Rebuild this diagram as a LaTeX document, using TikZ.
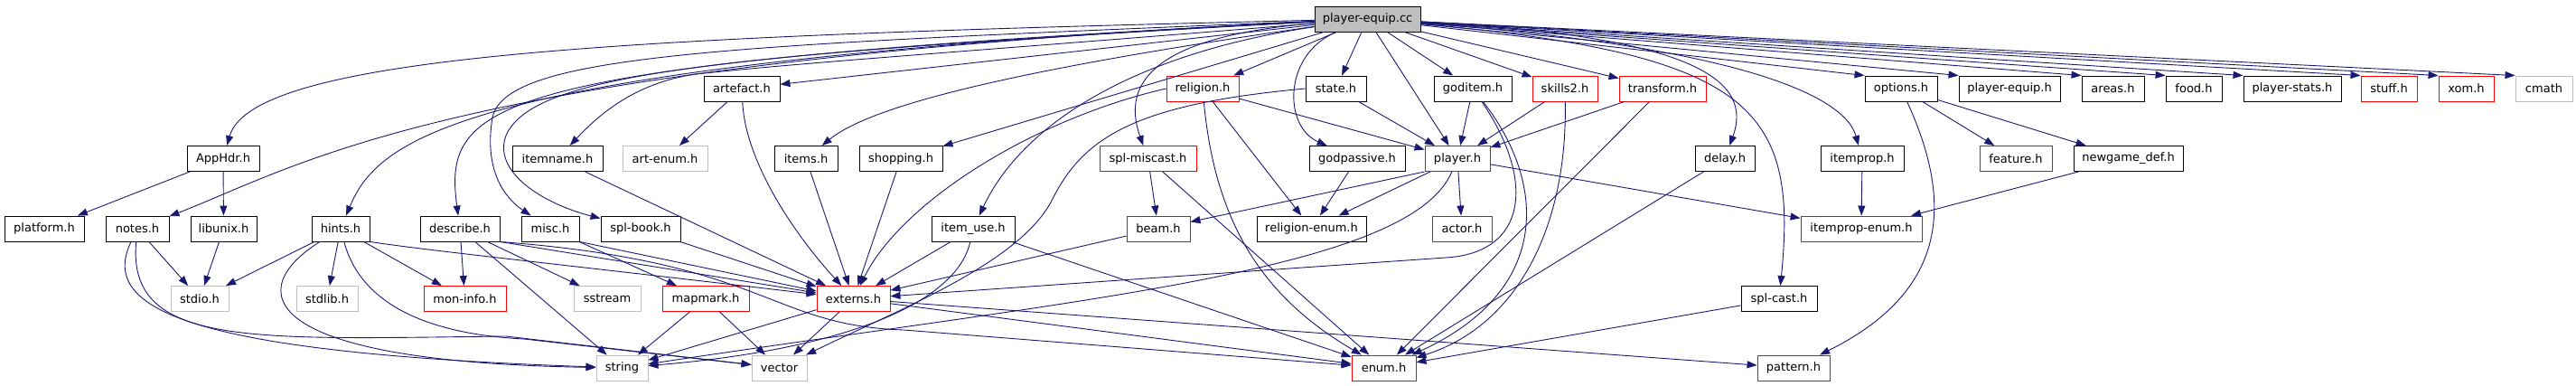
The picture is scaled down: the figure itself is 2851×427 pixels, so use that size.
\documentclass[tikz,border=0pt]{standalone}
\usepackage{fontspec}
\setmainfont{DejaVu Sans}
\usetikzlibrary{arrows.meta}
\definecolor{edgeblue}{HTML}{191970}
\definecolor{hdrred}{HTML}{FF0000}
\definecolor{hdrgray}{HTML}{BFBFBF}
\begin{document}
\begin{tikzpicture}[x=1pt,y=-1pt,
	hdr/.style={draw=black,line width=0.9pt,fill=white,minimum width=#1,minimum height=28pt,inner sep=0pt,font=\fontsize{13pt}{15pt}\selectfont},
	redhdr/.style={hdr=#1,draw=hdrred},
	syshdr/.style={hdr=#1,draw=hdrgray},
	rootfile/.style={hdr=#1,fill=hdrgray},
	dep/.style={draw=edgeblue,line width=0.9pt,-{Triangle[length=11pt,width=8pt]}}]
		\useasboundingbox (0,0) rectangle (2851,427);
		\node[rootfile=117pt] (root) at (1513.5,21) {player-equip.cc};
		\node[hdr=84pt] (artefact) at (821,98) {artefact.h};
		\node[redhdr=80pt] (religion) at (1331,98) {religion.h};
		\node[hdr=67pt] (state) at (1478.5,98) {state.h};
		\node[hdr=86pt] (goditem) at (1630,98) {goditem.h};
		\node[redhdr=72pt] (skillstwo) at (1732,98) {skills2.h};
		\node[redhdr=96pt] (transform) at (1840,98) {transform.h};
		\node[hdr=80pt] (options) at (2104,98) {options.h};
		\node[hdr=112pt] (pequip) at (2224,98) {player-equip.h};
		\node[hdr=69pt] (areas) at (2338.5,98) {areas.h};
		\node[hdr=62pt] (food) at (2428,98) {food.h};
		\node[hdr=108pt] (pstats) at (2537,98) {player-stats.h};
		\node[redhdr=62pt] (stuff) at (2644,98) {stuff.h};
		\node[redhdr=61pt] (xom) at (2729.5,98) {xom.h};
		\node[syshdr=63pt] (cmath) at (2815.5,98) {cmath};
		\node[hdr=80pt] (apphdr) at (247,175.5) {AppHdr.h};
		\node[hdr=100pt] (itemname) at (617,175.5) {itemname.h};
		\node[syshdr=94pt] (artenum) at (736,175.5) {art-enum.h};
		\node[hdr=70pt] (items) at (892,175.5) {items.h};
		\node[hdr=92pt] (shopping) at (997,175.5) {shopping.h};
		\node[redhdr=107pt] (miscast) at (1270.5,175.5) {spl-miscast.h};
		\node[hdr=106pt] (godpassive) at (1502,175.5) {godpassive.h};
		\node[redhdr=72pt] (player) at (1613,175.5) {player.h};
		\node[hdr=66pt] (delay) at (1909,175.5) {delay.h};
		\node[hdr=92pt] (itemprop) at (2061,175.5) {itemprop.h};
		\node[redhdr=80pt] (feature) at (2231,175.5) {feature.h};
		\node[hdr=121pt] (newgame) at (2355.5,175.5) {newgame\_def.h};
		\node[hdr=88pt] (platform) at (49,253) {platform.h};
		\node[hdr=70pt] (notes) at (152,253) {notes.h};
		\node[hdr=73pt] (libunix) at (247.5,253) {libunix.h};
		\node[hdr=64pt] (hints) at (377,253) {hints.h};
		\node[hdr=88pt] (describe) at (509,253) {describe.h};
		\node[hdr=64pt] (misc) at (609,253) {misc.h};
		\node[hdr=88pt] (splbook) at (709,253) {spl-book.h};
		\node[hdr=92pt] (itemuse) at (1077,253) {item\_use.h};
		\node[redhdr=70pt] (beam) at (1282,253) {beam.h};
		\node[hdr=121pt] (relenum) at (1451.5,253) {religion-enum.h};
		\node[redhdr=66pt] (actor) at (1618,253) {actor.h};
		\node[redhdr=134pt] (ipenum) at (2060,253) {itemprop-enum.h};
		\node[syshdr=64pt] (stdio) at (221,330.5) {stdio.h};
		\node[syshdr=68pt] (stdlib) at (362,330.5) {stdlib.h};
		\node[redhdr=91pt] (moninfo) at (514.5,330.5) {mon-info.h};
		\node[syshdr=74pt] (sstream) at (672,330.5) {sstream};
		\node[redhdr=96pt] (mapmark) at (781,330.5) {mapmark.h};
		\node[redhdr=81pt] (externs) at (944.5,330.5) {externs.h};
		\node[hdr=84pt] (splcast) at (1969,330.5) {spl-cast.h};
		\node[syshdr=57pt] (string) at (688.5,407) {string};
		\node[syshdr=61pt] (vector) at (862.5,407) {vector};
		\node[redhdr=71pt] (enum) at (1531.5,407) {enum.h};
		\node[redhdr=80pt] (pattern) at (1985,407) {pattern.h};
		\draw[dep] (root) .. controls (700,40) and (280,60) .. (apphdr);
		\draw[dep] (root) .. controls (500,70) and (340,180) .. (notes);
		\draw[dep] (root) .. controls (520,70) and (420,150) .. (hints);
		\draw[dep] (root) .. controls (540,70) and (490,110) .. (describe);
		\draw[dep] (root) .. controls (800,50) and (560,60) .. (545,130) .. controls (535,190) and (560,220) .. (misc);
		\draw[dep] (root) .. controls (800,60) and (590,80) .. (560,150) .. controls (545,190) and (600,225) .. (splbook);
		\draw[dep] (root) .. controls (1100,55) and (900,68) .. (770,82) .. controls (700,92) and (660,130) .. (itemname);
		\draw[dep] (root) -- (artefact);
		\draw[dep] (root) .. controls (1100,80) and (960,120) .. (items);
		\draw[dep] (root) -- (shopping);
		\draw[dep] (root) .. controls (1250,60) and (1130,140) .. (itemuse);
		\draw[dep] (root) -- (religion);
		\draw[dep] (root) .. controls (1280,40) and (1240,90) .. (miscast);
		\draw[dep] (root) -- (state);
		\draw[dep] (root) .. controls (1420,60) and (1420,140) .. (godpassive);
		\draw[dep] (root) -- (player);
		\draw[dep] (root) -- (goditem);
		\draw[dep] (root) -- (skillstwo);
		\draw[dep] (root) -- (transform);
		\draw[dep] (root) .. controls (1880,40) and (1940,90) .. (delay);
		\draw[dep] (root) .. controls (1940,60) and (1990,120) .. (splcast);
		\draw[dep] (root) .. controls (1900,50) and (2040,100) .. (itemprop);
		\foreach \n in {options,pequip,areas,food,pstats,stuff,xom,cmath}
			\draw[dep] (root) -- (\n.north west);
		\draw[dep] (apphdr) -- (platform);
		\draw[dep] (apphdr) -- (libunix);
		\draw[dep] (notes) -- (stdio);
		\draw[dep] (notes) .. controls (110,340) and (200,390) .. (string);
		\draw[dep] (notes) .. controls (140,385) and (280,375) .. (560,372) -- (vector);
		\draw[dep] (libunix) -- (stdio);
		\draw[dep] (hints) -- (stdio);
		\draw[dep] (hints) -- (stdlib);
		\draw[dep] (hints) -- (moninfo);
		\draw[dep] (hints) .. controls (270,320) and (280,400) .. (string);
		\draw[dep] (hints) .. controls (400,340) and (480,370) .. (580,375) -- (vector);
		\draw[dep] (hints.south east) .. controls (480,278) and (600,290) .. (externs);
		\draw[dep] (describe) -- (moninfo);
		\draw[dep] (describe) -- (sstream);
		\draw[dep] (describe) -- (string);
		\draw[dep] (describe.south east) -- (externs);
		\draw[dep] (describe.south east) .. controls (850,290) and (850,360) .. (1000,365) -- (enum);
		\draw[dep] (misc.south east) -- (externs);
		\draw[dep] (misc) -- (mapmark);
		\draw[dep] (splbook) -- (externs);
		\draw[dep] (itemname) -- (externs);
		\draw[dep] (artefact) -- (artenum);
		\draw[dep] (artefact) .. controls (825,180) and (880,260) .. (externs);
		\draw[dep] (items) -- (externs);
		\draw[dep] (shopping) -- (externs);
		\draw[dep] (itemuse) -- (externs);
		\draw[dep] (itemuse) .. controls (1060,330) and (950,385) .. (string);
		\draw[dep] (itemuse) -- (enum);
		\draw[dep] (religion) -- (player);
		\draw[dep] (religion) -- (relenum);
		\draw[dep] (religion.west) .. controls (1150,130) and (1000,220) .. (externs);
		\draw[dep] (religion) .. controls (1345,250) and (1400,330) .. (enum);
		\draw[dep] (miscast) -- (beam);
		\draw[dep] (miscast) -- (enum);
		\draw[dep] (state) -- (player);
		\draw[dep] (state.west) .. controls (1260,115) and (1200,150) .. (1165,220) .. controls (1130,290) and (1000,340) .. (vector);
		\draw[dep] (godpassive) -- (relenum);
		\draw[dep] (player.south west) -- (beam);
		\draw[dep] (player) -- (relenum);
		\draw[dep] (player) -- (actor);
		\draw[dep] (player) -- (ipenum);
		\draw[dep] (player) .. controls (1560,300) and (1200,330) .. (string);
		\draw[dep] (goditem) -- (player);
		\draw[dep] (goditem) .. controls (1700,200) and (1690,280) .. (1600,285) -- (externs);
		\draw[dep] (goditem) .. controls (1710,200) and (1720,320) .. (enum);
		\draw[dep] (skillstwo) -- (player);
		\draw[dep] (skillstwo) .. controls (1735,250) and (1680,360) .. (enum);
		\draw[dep] (transform) -- (player);
		\draw[dep] (transform) -- (enum);
		\draw[dep] (delay) -- (enum);
		\draw[dep] (splcast) -- (enum);
		\draw[dep] (beam) -- (externs);
		\draw[dep] (externs) -- (string);
		\draw[dep] (externs) -- (vector);
		\draw[dep] (externs) -- (enum);
		\draw[dep] (externs) -- (pattern);
		\draw[dep] (mapmark) -- (string);
		\draw[dep] (mapmark) -- (vector);
		\draw[dep] (itemprop) -- (ipenum);
		\draw[dep] (options) -- (feature);
		\draw[dep] (options) -- (newgame);
		\draw[dep] (options) .. controls (2160,220) and (2160,320) .. (pattern);
		\draw[dep] (newgame) -- (ipenum);
	\end{tikzpicture}
\end{document}
